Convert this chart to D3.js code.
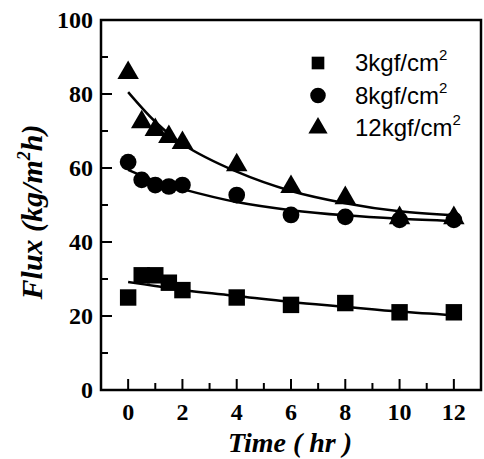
<!DOCTYPE html>
<html>
<head>
<meta charset="utf-8">
<script src="https://cdn.jsdelivr.net/npm/d3@7"></script>
<style>
body { margin: 0; background: #fff; }
</style>
</head>
<body>
<svg id="chart"></svg>
<script>
// measured times (hr)
var times = [0, 0.5, 1, 1.5, 2, 4, 6, 8, 10, 12];
// flux values
var flux3 = [25, 31, 31, 29, 27, 25, 23, 23.5, 21, 21];
var flux8 = [61.6, 56.8, 55.4, 55, 55.4, 52.7, 47.3, 46.8, 46, 46];
var flux12 = [85.7, 72.4, 70.3, 68.4, 66.8, 60.8, 54.9, 51.9, 46.5, 46.5];
// fitted curves (read at these times)
var fitTimes = [0, 1, 2, 4, 6, 8, 10, 12];
var fit3 = [29.2, 28.1, 27, 25.4, 23.8, 22.5, 21.2, 20.2];
var fit8 = [59.5, 56.5, 54.3, 50.8, 48.6, 47.2, 46.3, 45.7];
var fit12 = [80.5, 72.5, 66.5, 59, 53.8, 50.5, 48.3, 47.2];
var seriesNames = ["3kgf/cm", "8kgf/cm", "12kgf/cm"];
var xTicks = [0, 2, 4, 6, 8, 10, 12];
var xMinor = [1, 3, 5, 7, 9, 11];
var yTicks = [0, 20, 40, 60, 80, 100];
var yMinor = [10, 30, 50, 70, 90];

var width = 484, height = 459;
var plotL = 101, plotR = 481, plotT = 20, plotB = 390;
var serif = "'Liberation Serif', 'Times New Roman', serif";
var sans = "'Liberation Sans', Arial, sans-serif";

var svg = d3.select('#chart').attr('width', width).attr('height', height);

var x = d3.scaleLinear().domain([-1, 13]).range([plotL, plotR]);
var y = d3.scaleLinear().domain([0, 100]).range([plotB, plotT]);

// frame
svg.append('rect')
  .attr('x', plotL).attr('y', plotT)
  .attr('width', plotR - plotL).attr('height', plotB - plotT)
  .attr('fill', 'none').attr('stroke', '#000').attr('stroke-width', 2.5);

// y axis ticks (inward)
var yAxis = svg.append('g').attr('transform', 'translate(' + plotL + ',0)');
yAxis.selectAll('.major').data(yTicks).enter().append('line')
  .attr('class', 'major')
  .attr('x1', 0).attr('x2', 11)
  .attr('y1', function(d) { return y(d); }).attr('y2', function(d) { return y(d); })
  .attr('stroke', '#000').attr('stroke-width', 2);
yAxis.selectAll('.minor').data(yMinor).enter().append('line')
  .attr('class', 'minor')
  .attr('x1', 0).attr('x2', 7)
  .attr('y1', function(d) { return y(d); }).attr('y2', function(d) { return y(d); })
  .attr('stroke', '#000').attr('stroke-width', 2);
yAxis.selectAll('text').data(yTicks).enter().append('text')
  .attr('x', -8).attr('y', function(d) { return y(d); })
  .attr('dy', '0.34em')
  .attr('text-anchor', 'end')
  .attr('font-family', serif).attr('font-weight', 'bold').attr('font-size', 24)
  .text(function(d) { return d; });

// x axis ticks (inward)
var xAxis = svg.append('g').attr('transform', 'translate(0,' + plotB + ')');
xAxis.selectAll('.major').data(xTicks).enter().append('line')
  .attr('class', 'major')
  .attr('x1', function(d) { return x(d); }).attr('x2', function(d) { return x(d); })
  .attr('y1', 0).attr('y2', -11)
  .attr('stroke', '#000').attr('stroke-width', 2);
xAxis.selectAll('.minor').data(xMinor).enter().append('line')
  .attr('class', 'minor')
  .attr('x1', function(d) { return x(d); }).attr('x2', function(d) { return x(d); })
  .attr('y1', 0).attr('y2', -7)
  .attr('stroke', '#000').attr('stroke-width', 2);
xAxis.selectAll('text').data(xTicks).enter().append('text')
  .attr('x', function(d) { return x(d); }).attr('y', 30)
  .attr('text-anchor', 'middle')
  .attr('font-family', serif).attr('font-weight', 'bold').attr('font-size', 24)
  .text(function(d) { return d; });

// axis titles
svg.append('text')
  .attr('x', 290).attr('y', 452)
  .attr('text-anchor', 'middle')
  .attr('font-family', serif).attr('font-weight', 'bold').attr('font-style', 'italic')
  .attr('font-size', 28)
  .text('Time ( hr )');

var yt = svg.append('text')
  .attr('transform', 'translate(42,212) rotate(-90)')
  .attr('text-anchor', 'middle')
  .attr('font-family', serif).attr('font-weight', 'bold').attr('font-style', 'italic')
  .attr('font-size', 30);
yt.append('tspan').text('Flux (kg/m');
yt.append('tspan').attr('font-size', 18).attr('dy', -12).text('2');
yt.append('tspan').attr('dy', 12).text('h)');

// fitted lines
var line = d3.line()
  .x(function(d) { return x(d[0]); })
  .y(function(d) { return y(d[1]); })
  .curve(d3.curveCatmullRom);
[fit3, fit8, fit12].forEach(function(f) {
  svg.append('path')
    .datum(fitTimes.map(function(t, i) { return [t, f[i]]; }))
    .attr('d', line)
    .attr('fill', 'none').attr('stroke', '#000').attr('stroke-width', 2.5);
});

// markers
var symbols = [
  d3.symbol().type(d3.symbolSquare).size(270),
  d3.symbol().type(d3.symbolCircle).size(220),
  d3.symbol().type(d3.symbolTriangle).size(200)
];
[flux3, flux8, flux12].forEach(function(s, k) {
  svg.append('g').selectAll('path').data(s).enter().append('path')
    .attr('transform', function(d, i) { return 'translate(' + x(times[i]) + ',' + y(d) + ')'; })
    .attr('d', symbols[k])
    .attr('fill', '#000');
});

// legend
var legendSymbols = [
  d3.symbol().type(d3.symbolSquare).size(160),
  d3.symbol().type(d3.symbolCircle).size(190),
  d3.symbol().type(d3.symbolTriangle).size(160)
];
seriesNames.forEach(function(name, i) {
  var ly = 63 + i * 32.5;
  svg.append('path')
    .attr('transform', 'translate(318,' + ly + ')')
    .attr('d', legendSymbols[i])
    .attr('fill', '#000');
  var t = svg.append('text')
    .attr('x', 355).attr('y', ly + 8)
    .attr('font-family', sans).attr('font-size', 24);
  t.append('tspan').text(name);
  t.append('tspan').attr('font-size', 15).attr('dy', -11).text('2');
});
</script>
</body>
</html>
